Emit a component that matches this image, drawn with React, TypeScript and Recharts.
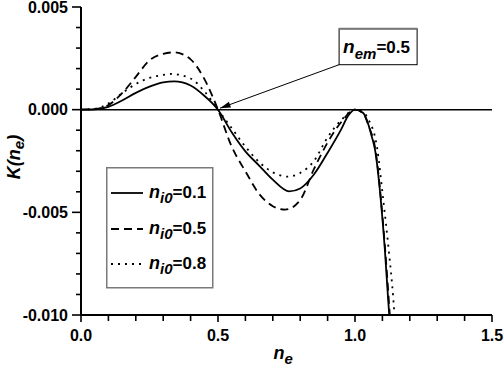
import React from 'react';
import { LineChart, Line, XAxis, YAxis, ReferenceLine, Legend } from 'recharts';

const FONT = '"Liberation Sans", Arial, Helvetica, sans-serif';

// tick values
const xTicks = [0, 0.1, 0.2, 0.3, 0.4, 0.5, 0.6, 0.7, 0.8, 0.9, 1.0, 1.1, 1.2, 1.3, 1.4, 1.5];
const yTicks = [-0.01, -0.009, -0.008, -0.007, -0.006, -0.005, -0.004, -0.003, -0.002, -0.001, 0, 0.001, 0.002, 0.003, 0.004, 0.005];

// series: [n_e, K(n_e)]
const ni01: [number, number][] = [
  [0, 0], [0.05, 0.00002], [0.1, 0.00014], [0.15, 0.00045], [0.2, 0.00082], [0.25, 0.00112],
  [0.3, 0.00133], [0.34, 0.00138], [0.4, 0.00118], [0.45, 0.00068], [0.5, 0], [0.55, -0.0011],
  [0.6, -0.00203], [0.65, -0.00272], [0.7, -0.00341], [0.76, -0.00398], [0.8, -0.00384],
  [0.85, -0.00316], [0.9, -0.0021], [0.95, -0.00095], [0.975, -0.0003], [1.0, 0], [1.03, -0.00016],
  [1.049, -0.00073], [1.061, -0.0013], [1.073, -0.00195], [1.094, -0.00438], [1.109, -0.00682],
  [1.121, -0.00925], [1.125, -0.01],
];
const ni05: [number, number][] = [
  [0, 0], [0.05, 0.00003], [0.1, 0.00022], [0.15, 0.0008], [0.2, 0.0016], [0.25, 0.0024],
  [0.3, 0.00272], [0.34, 0.00279], [0.4, 0.00245], [0.45, 0.0015], [0.5, 0], [0.55, -0.0018],
  [0.6, -0.003], [0.65, -0.0041], [0.7, -0.0047], [0.745, -0.00487], [0.8, -0.0044], [0.85, -0.0029],
  [0.9, -0.0016], [0.95, -0.0006], [1.0, 0], [1.03, -0.00018], [1.05, -0.0008], [1.075, -0.002],
  [1.095, -0.0044], [1.11, -0.0068], [1.123, -0.0092], [1.127, -0.01],
];
const ni08: [number, number][] = [
  [0, 0], [0.05, 0.00004], [0.1, 0.0003], [0.15, 0.0008], [0.2, 0.00125], [0.25, 0.00155],
  [0.3, 0.00169], [0.33, 0.00174], [0.4, 0.00152], [0.45, 0.0009], [0.5, 0], [0.55, -0.0009],
  [0.6, -0.0018], [0.65, -0.00255], [0.7, -0.00305], [0.755, -0.00326], [0.8, -0.00308],
  [0.85, -0.0025], [0.9, -0.00135], [0.95, -0.0005], [1.0, 0], [1.03, -0.00012], [1.05, -0.0005],
  [1.08, -0.0018], [1.103, -0.00438], [1.123, -0.00682], [1.14, -0.00925], [1.144, -0.01],
];

const seriesLabels = ['0.1', '0.5', '0.8'];
const seriesDash = ['', '8 5', '2 5'];
const annotation = { from: { x: 0.5, y: 0 }, to: { x: 0.942, y: 0.00219 }, label: '0.5' };

const toPts = (arr: [number, number][]) => arr.map(([x, y]) => ({ x, y }));

const isMajorY = (v: number) => Math.abs(v / 0.005 - Math.round(v / 0.005)) < 1e-6;
const isMajorX = (v: number) => Math.abs(v / 0.5 - Math.round(v / 0.5)) < 1e-6;

const YTick = (props: any) => {
  const { x, y, payload } = props;
  const v = payload.value as number;
  const major = isMajorY(v);
  return (
    <g>
      <line x1={x - (major ? 9 : 5)} x2={x} y1={y} y2={y} stroke="#000" strokeWidth={1.6} />
      {major && (
        <text x={x - 13} y={y} dy="0.36em" textAnchor="end" fontFamily={FONT} fontWeight="bold" fontSize={16} fill="#000">
          {Math.abs(v) < 1e-9 ? '0.000' : v.toFixed(3)}
        </text>
      )}
    </g>
  );
};

const XTick = (props: any) => {
  const { x, y, payload } = props;
  const v = payload.value as number;
  const major = isMajorX(v);
  return (
    <g>
      <line x1={x} x2={x} y1={y} y2={y + (major ? 7 : 6)} stroke="#000" strokeWidth={1.6} />
      {major && (
        <text x={x} y={y + 26} textAnchor="middle" fontFamily={FONT} fontWeight="bold" fontSize={16} fill="#000">
          {v.toFixed(1)}
        </text>
      )}
    </g>
  );
};

const XTitle = (props: any) => {
  const vb = props.viewBox || { x: 81, y: 315, width: 411 };
  const cx = vb.x + vb.width / 2;
  return (
    <text x={cx - 13} y={vb.y + 44} fontFamily={FONT} fontWeight="bold" fill="#000">
      <tspan fontStyle="italic" fontSize={18}>n</tspan>
      <tspan fontStyle="italic" fontSize={15} dy={5}>e</tspan>
    </text>
  );
};

const YTitle = (props: any) => {
  const vb = props.viewBox || { x: 0, y: 7, width: 81, height: 308 };
  const cy = vb.y + vb.height / 2 - 4;
  const bx = 20;
  return (
    <text transform={`translate(${bx},${cy}) rotate(-90)`} textAnchor="middle" fontFamily={FONT} fontWeight="bold" fill="#000">
      <tspan fontStyle="italic" fontSize={18}>K(n</tspan>
      <tspan fontStyle="italic" fontSize={15} dy={4}>e</tspan>
      <tspan fontStyle="italic" fontSize={18} dy={-4}>)</tspan>
    </text>
  );
};

const AnnotShape = (props: any) => {
  const { x1, y1, x2, y2 } = props;
  if (x1 == null) return null;
  const tipX = x1 + 2;
  const tipY = y1 - 1.5;
  const ang = Math.atan2(y2 - tipY, x2 - tipX);
  const len = 11;
  const spread = 0.28;
  const ax = tipX + len * Math.cos(ang + spread);
  const ay = tipY + len * Math.sin(ang + spread);
  const bx = tipX + len * Math.cos(ang - spread);
  const by = tipY + len * Math.sin(ang - spread);
  const w = 78;
  const h = 36;
  return (
    <g>
      <line x1={x2} y1={y2} x2={tipX} y2={tipY} stroke="#000" strokeWidth={1} />
      <polygon points={`${tipX},${tipY} ${ax},${ay} ${bx},${by}`} fill="#000" />
      <rect x={x2} y={y2 - h} width={w} height={h} fill="#fff" stroke="#000" strokeWidth={1} />
      <line x1={x2} x2={x2 + w} y1={y2 - h} y2={y2 - h} stroke="#777" strokeWidth={2} />
      <text x={x2 + 4} y={y2 - 12} fontFamily={FONT} fontWeight="bold" fill="#000">
        <tspan fontStyle="italic" fontSize={19}>n</tspan>
        <tspan fontStyle="italic" fontSize={15} dy={6}>em</tspan>
        <tspan fontSize={17} dy={-6}>={annotation.label}</tspan>
      </text>
    </g>
  );
};

const LegendBox = () => {
  const rows = [26, 62, 97];
  return (
    <svg width={108} height={122} style={{ display: 'block' }}>
      <rect x={0.75} y={0.75} width={106} height={120} fill="#fff" stroke="#7a7a7a" strokeWidth={1.5} />
      {seriesLabels.map((lab, i) => (
        <g key={lab}>
          <line x1={5} x2={37} y1={rows[i]} y2={rows[i]} stroke="#000" strokeWidth={1.8} strokeDasharray={seriesDash[i] || undefined} />
          <text x={43} y={rows[i] + 5} fontFamily={FONT} fontWeight="bold" fill="#000">
            <tspan fontStyle="italic" fontSize={18}>n</tspan>
            <tspan fontStyle="italic" fontSize={15} dy={5}>i0</tspan>
            <tspan fontSize={17} dy={-5}>={lab}</tspan>
          </text>
        </g>
      ))}
    </svg>
  );
};

export default function App() {
  const data = [toPts(ni01), toPts(ni05), toPts(ni08)];
  return (
    <div style={{ position: 'absolute', left: 0, top: 0, background: '#fff' }}>
      <LineChart width={504} height={369} margin={{ top: 7, right: 12, bottom: 0, left: 0 }}>
        <XAxis
          type="number"
          dataKey="x"
          domain={[0, 1.5]}
          ticks={xTicks}
          interval={0}
          allowDataOverflow
          height={54}
          tickSize={0}
          tickMargin={0}
          tickLine={false}
          axisLine={{ stroke: '#000', strokeWidth: 2 }}
          tick={<XTick />}
          label={<XTitle />}
        />
        <YAxis
          type="number"
          dataKey="y"
          domain={[-0.01, 0.005]}
          ticks={yTicks}
          interval={0}
          allowDataOverflow
          width={81}
          tickSize={0}
          tickMargin={0}
          tickLine={false}
          axisLine={{ stroke: '#000', strokeWidth: 2 }}
          tick={<YTick />}
          label={<YTitle />}
        />
        <ReferenceLine y={0} stroke="#000" strokeWidth={1.5} />
        {data.map((d, i) => (
          <Line
            key={seriesLabels[i]}
            data={d}
            dataKey="y"
            type="monotone"
            stroke="#000"
            strokeWidth={1.8}
            strokeDasharray={seriesDash[i] || undefined}
            dot={false}
            activeDot={false}
            isAnimationActive={false}
            name={seriesLabels[i]}
          />
        ))}
        <ReferenceLine segment={[annotation.from, annotation.to]} shape={AnnotShape} ifOverflow="visible" />
        <Legend
          layout="vertical"
          align="center"
          verticalAlign="middle"
          wrapperStyle={{ left: 106, top: 167, width: 108, height: 122, position: 'absolute' }}
          content={() => <LegendBox />}
        />
      </LineChart>
    </div>
  );
}
